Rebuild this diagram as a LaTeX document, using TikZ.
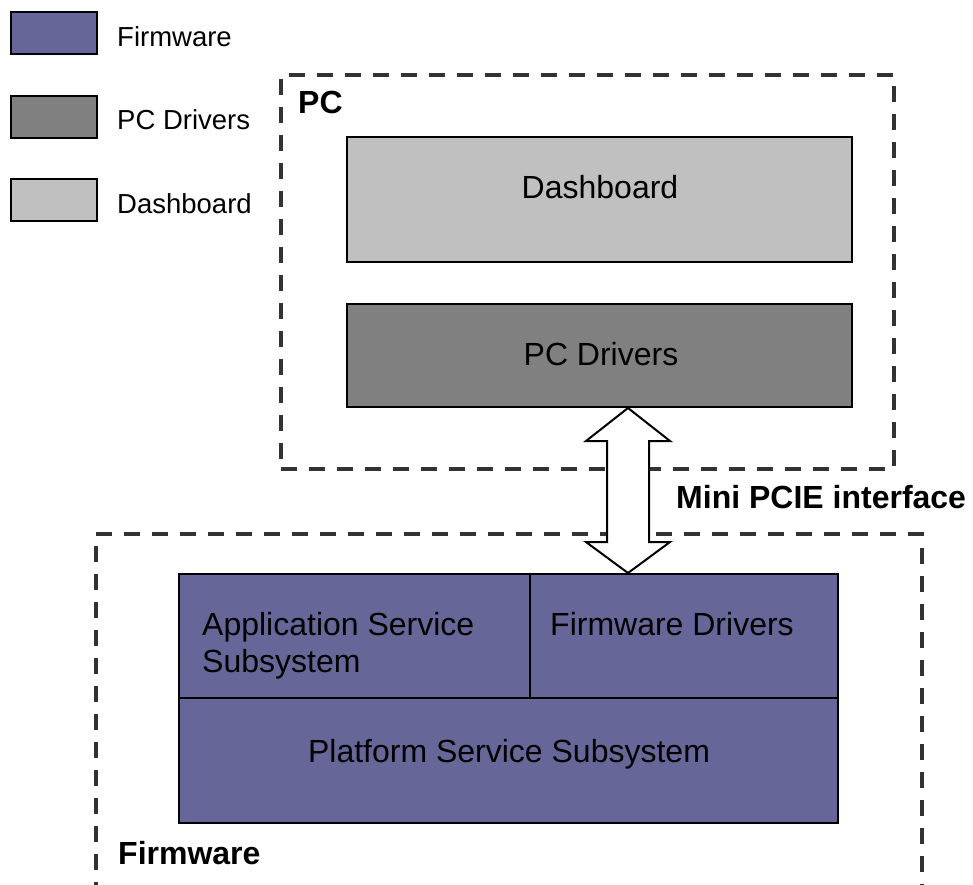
\documentclass[tikz,border=0pt]{standalone}
\usepackage{fontspec}
\setmainfont{Liberation Sans}
\usetikzlibrary{positioning}

\definecolor{fwpurple}{RGB}{102,102,153}
\definecolor{pcgray}{RGB}{128,128,128}
\definecolor{dashgray}{RGB}{192,192,192}
\definecolor{framegray}{RGB}{51,51,51}

\begin{document}
\begin{tikzpicture}[
    x=1pt, y=-1pt,
    legbox/.style={draw, line width=2pt, rectangle, minimum width=86pt, minimum height=42pt, inner sep=0pt},
    block/.style={draw, line width=2pt, rectangle, inner sep=0pt},
    frame/.style={draw=framegray, line width=4pt, dash pattern=on 16pt off 12pt, rectangle, inner sep=0pt},
    legtext/.style={font=\fontsize{27.5}{32}\selectfont, inner sep=0pt, anchor=base west},
    boxtext/.style={font=\fontsize{32}{37}\selectfont, inner sep=0pt, align=left},
    boldtext/.style={font=\fontsize{32}{37}\selectfont\bfseries, inner sep=0pt, anchor=base west},
    pcie/.style={draw, fill=white, line width=2pt, line join=miter}
]
    \useasboundingbox (0,0) rectangle (973,884);

    % Legend
    \node[legbox, fill=fwpurple] (legfw) at (54,33) {};
    \node[legbox, fill=pcgray] (legpc) at (54,116.5) {};
    \node[legbox, fill=dashgray] (legdb) at (54,199.5) {};
    \node[legtext] (legfwtxt) at (117,46.5) {Firmware};
    \node[legtext] (legpctxt) at (117,129) {PC Drivers};
    \node[legtext] (legdbtxt) at (117,213) {Dashboard};

    % PC side
    \node[frame, minimum width=613pt, minimum height=394pt] (pcframe) at (587,272) {};
    \node[boldtext] (pclbl) at (298,113) {PC};
    \node[block, fill=dashgray, minimum width=505pt, minimum height=125pt] (dash) at (599.5,199.5) {};
    \node[block, fill=pcgray, minimum width=505pt, minimum height=103pt] (pcdrv) at (599.5,355.5) {};
    \node[boxtext, anchor=base] (dashtxt) at (600,198) {Dashboard};
    \node[boxtext, anchor=base] (pcdrvtxt) at (601,365) {PC Drivers};

    % Firmware side
    \node[frame, minimum width=826pt, minimum height=380pt] (fwframe) at (509,724) {};
    \node[block, fill=fwpurple, minimum width=351pt, minimum height=124pt] (app) at (354.5,636) {};
    \node[block, fill=fwpurple, minimum width=308pt, minimum height=124pt] (fwdrv) at (684,636) {};
    \node[block, fill=fwpurple, minimum width=659pt, minimum height=125pt] (platform) at (508.5,760.5) {};
    \node[boxtext, anchor=base west] (apptxt) at (202,672) {Application Service\\Subsystem};
    \node[boxtext, anchor=base west] (fwdrvtxt) at (550,635) {Firmware Drivers};
    \node[boxtext, anchor=base] (platformtxt) at (509,762) {Platform Service Subsystem};
    \node[boldtext] (fwlbl) at (118,864) {Firmware};

    % Interface arrow
    \coordinate (tiptop) at (pcdrv.south -| 628,0);
    \coordinate (tipbot) at (fwdrv.north -| 628,0);
    \draw[pcie] (tiptop) -- ++(42,33) -- ++(-21,0) -- ++(0,101) -- ++(21,0)
        -- (tipbot) -- ++(-42,-31) -- ++(21,0) -- ++(0,-101) -- ++(-21,0) -- cycle;
    \node[boldtext] (pcielbl) at (676,508) {Mini PCIE interface};
\end{tikzpicture}
\end{document}
